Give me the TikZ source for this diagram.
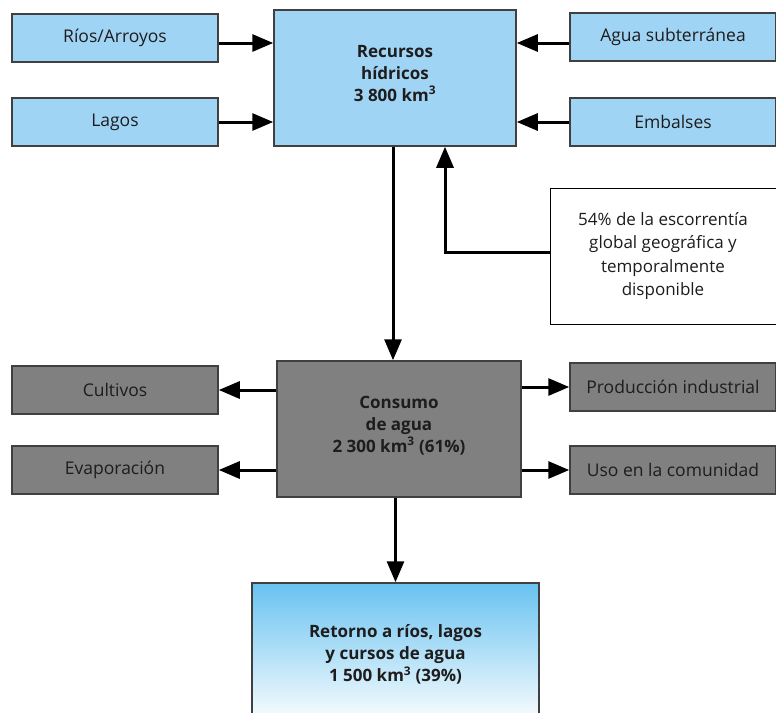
\documentclass[tikz,border=0pt]{standalone}
\usepackage{fontspec}
\setmainfont{Open Sans}
\usetikzlibrary{arrows.meta}
\definecolor{azul}{RGB}{160,212,244}
\definecolor{azulfuerte}{RGB}{104,194,240}
\definecolor{gris}{RGB}{128,128,128}
\definecolor{borde}{RGB}{64,64,64}
\definecolor{tinta}{RGB}{30,28,28}

\begin{document}
\begin{tikzpicture}[x=1pt, y=-1pt,
    caja/.style={
        rectangle, draw=borde, line width=1.5pt, fill=azul,
        minimum width=206pt, minimum height=48pt, inner sep=0pt,
        text=tinta, font=\fontsize{17.5}{22}\selectfont, align=center
    },
    grande/.style={caja, minimum width=242pt, minimum height=136pt,
        font=\fontsize{17}{22}\selectfont\bfseries},
    flecha/.style={line width=3pt, -{Triangle[length=21pt, width=17pt]}}
    ]
    \useasboundingbox (0,0) rectangle (776,712);

    % entradas
    \node [caja] (rios)     at (115, 38)  {Ríos/Arroyos};
    \node [caja] (lagos)    at (115, 122) {Lagos};
    \node [caja] (agua)     at (673, 37)  {Agua subterránea};
    \node [caja] (embalses) at (673, 122) {Embalses};
    \node [grande] (recursos) at (395, 78) {Recursos\\hídricos\\3 800 km\textsuperscript{3}\\[-12pt]};

    \node [caja, fill=white, draw=black, line width=1pt, font=\fontsize{17}{23.5}\selectfont,
           minimum width=226pt, minimum height=136pt] (nota) at (663, 256)
          {54\% de la escorrentía\\global geográfica y\\temporalmente\\disponible};

    % consumo
    \node [grande, fill=gris, minimum width=244pt] (consumo) at (399, 429)
          {Consumo\\de agua\\2 300 km\textsuperscript{3} (61\%)\\[-12pt]};
    \node [caja, fill=gris] (cultivos)  at (115, 390) {Cultivos};
    \node [caja, fill=gris] (evapora)   at (115, 470) {Evaporación};
    \node [caja, fill=gris] (industria) at (673, 387) {Producción industrial};
    \node [caja, fill=gris] (comunidad) at (673, 470) {Uso en la comunidad};

    \node [grande, minimum width=287pt, minimum height=143pt,
           top color=azulfuerte, bottom color=white] (retorno) at (395.5, 654.5)
          {Retorno a ríos, lagos\\y cursos de agua\\1 500 km\textsuperscript{3} (39\%)};

    % flechas
    \draw [flecha] ([yshift=-5pt]rios.east) -- ([yshift=-5pt]rios.east -| recursos.west);
    \draw [flecha] (lagos.east) -- (lagos.east -| recursos.west);
    \draw [flecha] ([yshift=-6pt]agua.west) -- ([yshift=-6pt]agua.west -| recursos.east);
    \draw [flecha] (embalses.west) -- (embalses.west -| recursos.east);
    \draw [flecha] ([xshift=-2pt]recursos.south) -- ([xshift=-2pt]recursos.south |- consumo.north);
    \draw [flecha] ([yshift=4pt]nota.west) -| ([xshift=50pt]recursos.south);
    \draw [flecha] (cultivos.east -| consumo.west) -- (cultivos.east);
    \draw [flecha] (evapora.east -| consumo.west) -- (evapora.east);
    \draw [flecha] (industria.west -| consumo.east) -- (industria.west);
    \draw [flecha] (comunidad.west -| consumo.east) -- (comunidad.west);
    \draw [flecha] (consumo.south -| retorno.north) -- (retorno.north);
\end{tikzpicture}
\end{document}
